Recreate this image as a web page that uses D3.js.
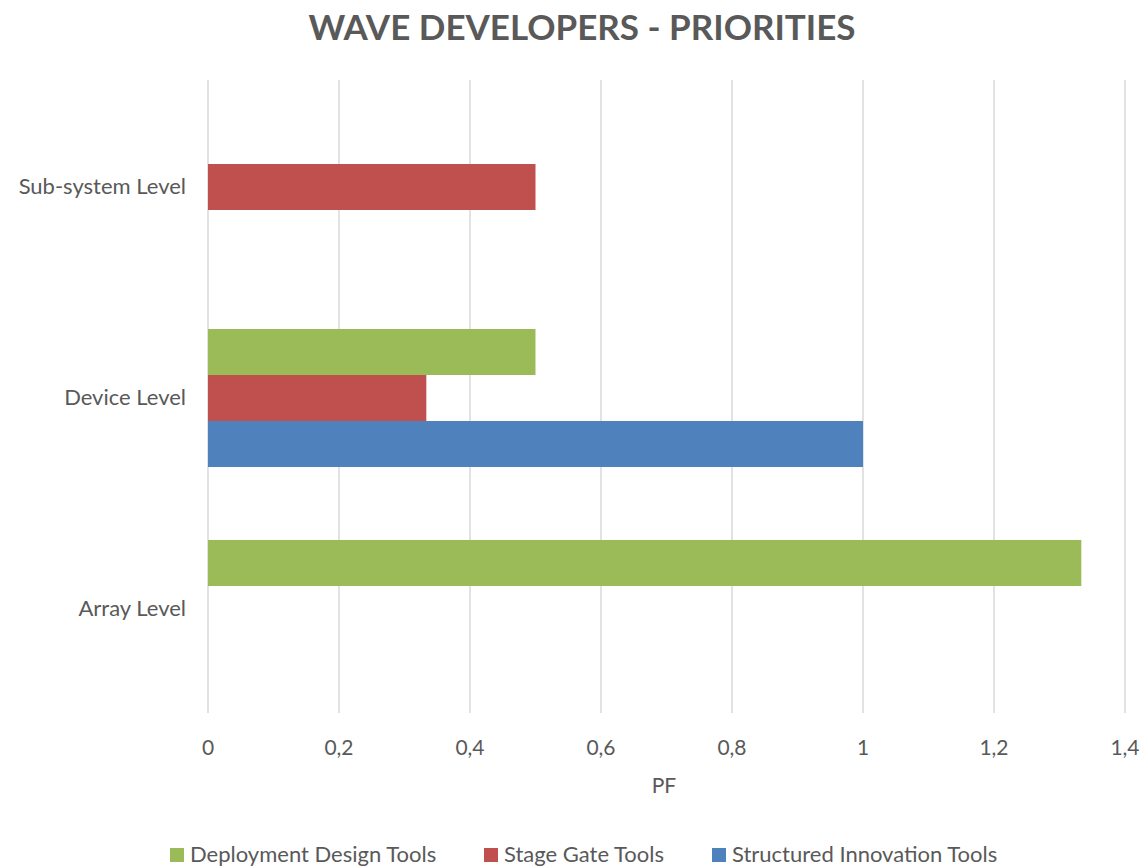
<!DOCTYPE html>
<html><head><meta charset="utf-8">
<script src="https://cdn.jsdelivr.net/npm/d3@7"></script>
<style>body{margin:0;background:#fff;} text{font-family:Lato,"Open Sans",sans-serif;}</style>
</head><body>
<svg id="c" width="1145" height="866"></svg>
<script>
const categories = ["Sub-system Level", "Device Level", "Array Level"];
const seriesNames = ["Deployment Design Tools", "Stage Gate Tools", "Structured Innovation Tools"];
const deploymentValues = [0, 0.5, 1.3333];
const stageGateValues = [0.5, 0.3333, 0];
const structuredValues = [0, 1.0, 0];
const xTicks = [0, 0.2, 0.4, 0.6, 0.8, 1, 1.2, 1.4];
const colors = ["#9BBB59", "#C0504D", "#4F81BD"];

const seriesValues = [deploymentValues, stageGateValues, structuredValues];
const svg = d3.select("#c");
const pLeft = 208, pRight = 1125, pTop = 80, pBottom = 713;
const x = d3.scaleLinear().domain([0, 1.4]).range([pLeft, pRight]);
const y = d3.scaleBand().domain(categories).range([pTop, pBottom]).padding(0);
const step = y.bandwidth();
const barH = 46;
const y1 = d3.scaleBand().domain(seriesNames)
  .range([(step - 3 * barH) / 2 + 1.5, (step + 3 * barH) / 2 + 1.5]).padding(0);

// gridlines
svg.append("g").selectAll("line").data(xTicks).join("line")
  .attr("x1", d => x(d)).attr("x2", d => x(d))
  .attr("y1", pTop).attr("y2", pBottom)
  .attr("stroke", "#d9d9d9").attr("stroke-width", 1.5);

// bars
const rows = [];
categories.forEach((c, i) => seriesNames.forEach((s, j) => {
  if (seriesValues[j][i] > 0) rows.push({c, s, v: seriesValues[j][i], j});
}));
svg.append("g").selectAll("rect").data(rows).join("rect")
  .attr("x", x(0)).attr("y", d => y(d.c) + y1(d.s))
  .attr("width", d => x(d.v) - x(0)).attr("height", y1.bandwidth())
  .attr("fill", d => colors[d.j]);

// x tick labels
svg.append("g").selectAll("text").data(xTicks).join("text")
  .attr("x", d => x(d)).attr("y", 755)
  .attr("text-anchor", "middle").attr("font-size", 21).attr("fill", "#595959")
  .text(d => String(d).replace(".", ","));

// category labels
svg.append("g").selectAll("text").data(categories).join("text")
  .attr("x", 186).attr("y", d => y(d) + step / 2 + 8)
  .attr("text-anchor", "end").attr("font-size", 22).attr("fill", "#595959")
  .text(d => d);

// axis title
svg.append("text").attr("x", 664).attr("y", 793).attr("text-anchor", "middle")
  .attr("font-size", 21).attr("fill", "#595959").text("PF");

// title
svg.append("text").attr("x", 582).attr("y", 40).attr("text-anchor", "middle")
  .attr("font-size", 35).attr("font-weight", "bold").attr("fill", "#595959")
  .text("WAVE DEVELOPERS - PRIORITIES");

// legend
const legX = [170, 484, 712];
const lg = svg.append("g").selectAll("g").data(seriesNames).join("g")
  .attr("transform", (d, i) => `translate(${legX[i]},0)`);
lg.append("rect").attr("x", 0).attr("y", 848).attr("width", 14).attr("height", 14)
  .attr("fill", (d, i) => colors[i]);
lg.append("text").attr("x", 20).attr("y", 862).attr("font-size", 22).attr("fill", "#595959")
  .text(d => d);
</script>
</body></html>
